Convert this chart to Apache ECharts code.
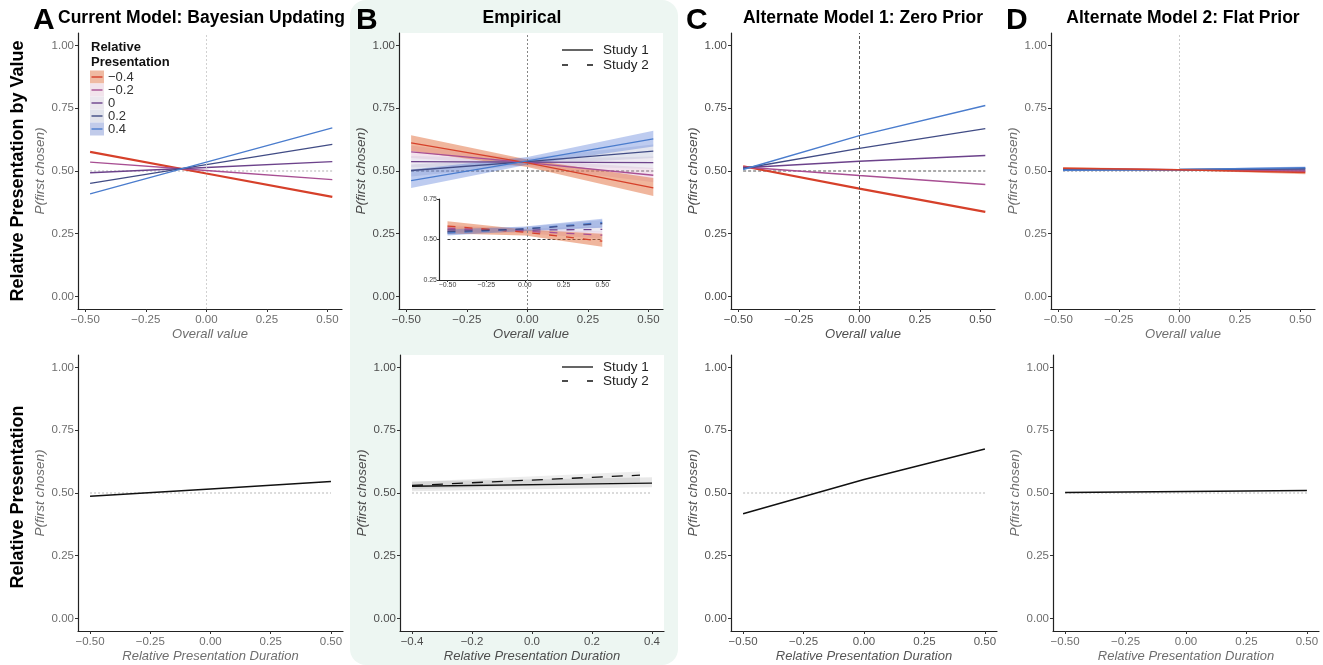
<!DOCTYPE html>
<html>
<head>
<meta charset="utf-8">
<script src="https://cdn.jsdelivr.net/npm/echarts@6/dist/echarts.min.js"></script>
<style>
html, body { margin: 0; padding: 0; background: #fff; }
#main { width: 1323px; height: 665px; }
</style>
</head>
<body>
<div id="main"></div>
<script>
// levels of relative presentation (legend of panel A)
const presLevels = ['−0.4', '−0.2', '0', '0.2', '0.4'];

// x positions the curves were read at
const valueX = [-0.48, 0, 0.52];
const insetX = [-0.5, 0, 0.5];
const durX = [-0.5, 0, 0.5];
const empDurX1 = [-0.4, 0.4];
const empDurX2 = [-0.4, 0.36];

// A - current model (bayesian updating)
const bayesByValue = [
  [0.576, 0.490, 0.397],
  [0.535, 0.502, 0.466],
  [0.493, 0.514, 0.537],
  [0.451, 0.525, 0.606],
  [0.409, 0.535, 0.672]
];
const bayesDur = [0.487, 0.516, 0.546];

// B - empirical, study 1 (main panel)
const empStudy1 = [
  [0.612, 0.532, 0.433],
  [0.576, 0.533, 0.483],
  [0.537, 0.535, 0.533],
  [0.502, 0.537, 0.579],
  [0.462, 0.540, 0.628]
];
const empStudy1Lo = [
  [0.580, 0.516, 0.400],
  [0.552, 0.519, 0.455],
  [0.515, 0.523, 0.508],
  [0.478, 0.525, 0.552],
  [0.432, 0.525, 0.598]
];
const empStudy1Hi = [
  [0.642, 0.546, 0.472],
  [0.602, 0.546, 0.512],
  [0.560, 0.548, 0.558],
  [0.526, 0.551, 0.606],
  [0.506, 0.556, 0.660]
];
// B - empirical, study 2 (inset)
const empStudy2 = [
  [0.583, 0.545, 0.490],
  [0.570, 0.551, 0.527],
  [0.560, 0.558, 0.562],
  [0.548, 0.565, 0.598],
  [0.540, 0.566, 0.605]
];
const empStudy2Lo = [
  [0.537, 0.525, 0.455],
  [0.548, 0.538, 0.505],
  [0.543, 0.547, 0.545],
  [0.530, 0.553, 0.575],
  [0.525, 0.552, 0.572]
];
const empStudy2Hi = [
  [0.612, 0.562, 0.535],
  [0.590, 0.563, 0.550],
  [0.578, 0.568, 0.580],
  [0.568, 0.577, 0.620],
  [0.562, 0.580, 0.628]
];
const empDur1 = [0.527, 0.539];
const empDur1Lo = [0.507, 0.523];
const empDur1Hi = [0.546, 0.563];
const empDur2 = [0.530, 0.571];
const empDur2Lo = [0.515, 0.543];
const empDur2Hi = [0.545, 0.586];

// C - zero prior
const zeroByValue = [
  [0.519, 0.430, 0.337],
  [0.516, 0.482, 0.446],
  [0.513, 0.539, 0.562],
  [0.510, 0.590, 0.669],
  [0.506, 0.641, 0.761]
];
const zeroDur = [0.417, 0.554, 0.675];

// D - flat prior
const flatByValue = [
  [0.511, 0.505, 0.494],
  [0.509, 0.505, 0.499],
  [0.507, 0.505, 0.504],
  [0.505, 0.506, 0.509],
  [0.503, 0.506, 0.513]
];
const flatByValueLo = [
  [0.506, 0.503, 0.487],
  [0.507, 0.504, 0.497],
  [0.506, 0.504, 0.502],
  [0.503, 0.505, 0.506],
  [0.499, 0.504, 0.508]
];
const flatByValueHi = [
  [0.516, 0.507, 0.501],
  [0.511, 0.506, 0.501],
  [0.508, 0.506, 0.506],
  [0.507, 0.507, 0.512],
  [0.507, 0.508, 0.518]
];
const flatDur = [0.502, 0.506, 0.510];

// ticks
const probTicks = [0, 0.25, 0.5, 0.75, 1];
const probTickLabels = ['0.00', '0.25', '0.50', '0.75', '1.00'];
const valTicks = [-0.5, -0.25, 0, 0.25, 0.5];
const valTickLabels = ['−0.50', '−0.25', '0.00', '0.25', '0.50'];
const durTicksB = [-0.4, -0.2, 0, 0.2, 0.4];
const durTickLabelsB = ['−0.4', '−0.2', '0.0', '0.2', '0.4'];
const insetTicks = [0.25, 0.5, 0.75];
const insetTickLabels = ['0.25', '0.50', '0.75'];

// styles
const FONT = '"Liberation Sans", Arial, sans-serif';
const lineCols = ['#d6402a', '#a84f93', '#6c428b', '#414c85', '#4a7ccd'];
const bandCols = ['rgba(226,110,60,0.5)', 'rgba(220,175,205,0.35)', 'rgba(205,195,218,0.35)', 'rgba(175,180,210,0.35)', 'rgba(85,120,215,0.38)'];
const keyCols = ['#efbaa2', '#f2e4ec', '#ebe7ee', '#e2e4ec', '#c1cbea'];

const grids = [], xAxes = [], yAxes = [], series = [];

function fmt(vals, labels) {
  return function (v) {
    const i = vals.findIndex(t => Math.abs(t - v) < 1e-9);
    return i < 0 ? '' : labels[i];
  };
}

function addPanel(box, o) {
  const gi = grids.length;
  grids.push({
    left: box[0], top: box[1], width: box[2], height: box[3],
    show: !!o.bg, backgroundColor: o.bg || 'transparent', borderWidth: 0
  });
  const fs = o.fs || 11.5;
  xAxes.push({
    type: 'value', gridIndex: gi, min: o.xr[0], max: o.xr[1],
    name: o.xname || '', nameLocation: 'middle', nameGap: 19,
    nameTextStyle: { fontStyle: 'italic', fontSize: 13, color: o.col, fontFamily: FONT },
    axisLine: { show: true, onZero: false, lineStyle: { color: '#222', width: 1.2 } },
    axisTick: { show: true, customValues: o.xt, length: o.tl || 3, lineStyle: { color: '#333' } },
    axisLabel: { customValues: o.xt, formatter: fmt(o.xt, o.xl), fontSize: fs, color: o.col, margin: o.tl ? 2 : 5, fontFamily: FONT },
    splitLine: { show: false }
  });
  yAxes.push({
    type: 'value', gridIndex: gi, min: o.yr[0], max: o.yr[1],
    name: o.yname || '', nameLocation: 'middle', nameGap: 30,
    nameTextStyle: { fontStyle: 'italic', fontSize: 13.5, color: o.col, fontFamily: FONT },
    axisLine: { show: true, onZero: false, lineStyle: { color: '#222', width: 1.2 } },
    axisTick: { show: true, customValues: o.yt, length: o.tl || 3, lineStyle: { color: '#333' } },
    axisLabel: { customValues: o.yt, formatter: fmt(o.yt, o.yl), fontSize: fs, color: o.col, margin: o.tl ? 2 : 4, fontFamily: FONT },
    splitLine: { show: false }
  });
  return gi;
}

function addLine(gi, xs, ys, color, width, dash) {
  series.push({
    type: 'line', xAxisIndex: gi, yAxisIndex: gi, silent: true, symbol: 'none', z: 4,
    data: xs.map((x, i) => [x, ys[i]]),
    lineStyle: { color: color, width: width, type: dash || 'solid' }
  });
}

function addBand(gi, xs, lo, hi, color) {
  series.push({
    type: 'custom', xAxisIndex: gi, yAxisIndex: gi, silent: true, z: 3,
    data: [[xs[0], lo[0]]],
    renderItem: function (params, api) {
      const pts = [];
      xs.forEach((x, i) => pts.push(api.coord([x, hi[i]])));
      for (let i = xs.length - 1; i >= 0; i--) pts.push(api.coord([xs[i], lo[i]]));
      return { type: 'polygon', shape: { points: pts }, style: { fill: color } };
    }
  });
}

// horizontal chance line (over the data range) + optional vertical line at x = 0
function addRef(gi, x0, x1, hCol, hDash, vCol, vDash) {
  const s = {
    type: 'line', xAxisIndex: gi, yAxisIndex: gi, silent: true, symbol: 'none', z: 2,
    data: [[x0, 0.5], [x1, 0.5]],
    lineStyle: { color: hCol, width: 0.9, type: hDash }
  };
  if (vCol) {
    s.markLine = {
      silent: true, symbol: ['none', 'none'], label: { show: false },
      lineStyle: { color: vCol, width: 0.9, type: vDash },
      data: [{ xAxis: 0 }]
    };
  }
  series.push(s);
}

const topY = { yr: [-0.05, 1.05], yt: probTicks, yl: probTickLabels, yname: 'P(first chosen)' };
const topX = { xr: [-0.53, 0.56], xt: valTicks, xl: valTickLabels, xname: 'Overall value' };
const botX = { xr: [-0.55, 0.55], xt: valTicks, xl: valTickLabels, xname: 'Relative Presentation Duration' };

// ---- row 1 ----
const gA1 = addPanel([78, 33, 264, 276], Object.assign({ col: '#6e6e6e' }, topX, topY));
addRef(gA1, -0.48, 0.52, '#aaaaaa', [2, 2], '#cccccc', [2, 2]);
bayesByValue.forEach((ys, i) => addLine(gA1, valueX, ys, lineCols[i], i === 0 ? 2.2 : 1.3));

const gB1 = addPanel([399, 33, 264, 276], Object.assign({ col: '#4d4d4d', bg: '#ffffff' }, topX, topY));
addRef(gB1, -0.48, 0.52, '#333333', [3, 2], '#777777', [2, 2]);
[1, 2, 3, 0, 4].forEach(i => addBand(gB1, valueX, empStudy1Lo[i], empStudy1Hi[i], bandCols[i]));
[2, 1, 3, 0, 4].forEach(i => addLine(gB1, valueX, empStudy1[i], lineCols[i], 1.3));

const gC1 = addPanel([731, 33, 264, 276], Object.assign({ col: '#4d4d4d' }, topX, topY));
addRef(gC1, -0.48, 0.52, '#444444', [3, 2], '#444444', [3, 2]);
zeroByValue.forEach((ys, i) => addLine(gC1, valueX, ys, lineCols[i], i === 0 ? 2.2 : 1.4));

const gD1 = addPanel([1051, 33, 264, 276], Object.assign({ col: '#6e6e6e' }, topX, topY));
addRef(gD1, -0.48, 0.52, '#777777', [2, 2], '#c4c4c4', [2, 2]);
[1, 2, 3, 0, 4].forEach(i => addBand(gD1, valueX, flatByValueLo[i], flatByValueHi[i], bandCols[i]));
[2, 1, 3, 4, 0].forEach(i => addLine(gD1, valueX, flatByValue[i], lineCols[i], 1.6));

// inset of panel B: study 2
const gIn = addPanel([439, 199, 171, 81], {
  col: '#444', fs: 7, tl: 2,
  xr: [-0.555, 0.55], xt: valTicks, xl: valTickLabels,
  yr: [0.25, 0.75], yt: insetTicks, yl: insetTickLabels
});
addRef(gIn, -0.5, 0.5, '#222222', [3, 2]);
[1, 2, 3, 0, 4].forEach(i => addBand(gIn, insetX, empStudy2Lo[i], empStudy2Hi[i], bandCols[i]));
[2, 1, 0, 4, 3].forEach(i => addLine(gIn, insetX, empStudy2[i], lineCols[i], 1.3, [8, 9]));

// ---- row 2 ----
const gA2 = addPanel([78, 355, 265, 276], Object.assign({ col: '#6e6e6e' }, botX, topY));
addRef(gA2, -0.5, 0.5, '#b0b0b0', [2, 2]);
addLine(gA2, durX, bayesDur, '#111', 1.5);

const gB2 = addPanel([400, 355, 264, 276], Object.assign({ col: '#4d4d4d', bg: '#ffffff' }, botX, topY,
  { xr: [-0.44, 0.44], xt: durTicksB, xl: durTickLabelsB }));
addRef(gB2, -0.4, 0.4, '#b0b0b0', [2, 2]);
addBand(gB2, empDurX1, empDur1Lo, empDur1Hi, 'rgba(0,0,0,0.09)');
addBand(gB2, empDurX2, empDur2Lo, empDur2Hi, 'rgba(0,0,0,0.07)');
addLine(gB2, empDurX1, empDur1, '#111', 1.3);
addLine(gB2, empDurX2, empDur2, '#111', 1.3, [11, 9]);

const gC2 = addPanel([731, 355, 266, 276], Object.assign({ col: '#555555' }, botX, topY));
addRef(gC2, -0.5, 0.5, '#b0b0b0', [2, 2]);
addLine(gC2, durX, zeroDur, '#111', 1.5);

const gD2 = addPanel([1053, 355, 266, 276], Object.assign({ col: '#6e6e6e' }, botX, topY));
addRef(gD2, -0.5, 0.5, '#b0b0b0', [2, 2]);
addLine(gD2, durX, flatDur, '#111', 1.5);

// ---- text, legends, background ----
function txt(text, x, y, size, opts) {
  return Object.assign({
    type: 'text', x: x, y: y, silent: true,
    style: Object.assign({
      text: text, fontSize: size, fontFamily: FONT, fill: '#000',
      textAlign: 'left', textVerticalAlign: 'middle'
    }, (opts && opts.style) || {})
  }, (opts && opts.el) || {});
}
const bold = (a) => ({ style: Object.assign({ fontWeight: 'bold' }, a || {}) });

const graphics = [
  { type: 'rect', z: -100, silent: true, shape: { x: 350, y: 0, width: 328, height: 665, r: 16 }, style: { fill: '#edf6f2' } },
  txt('A', 33, 21, 30, bold()),
  txt('B', 356, 21, 30, bold()),
  txt('C', 686, 21, 30, bold()),
  txt('D', 1006, 21, 30, bold()),
  txt('Current Model: Bayesian Updating', 58, 18, 17.5, bold()),
  txt('Empirical', 522, 18, 17.5, bold({ textAlign: 'center' })),
  txt('Alternate Model 1: Zero Prior', 863, 18, 17.5, bold({ textAlign: 'center' })),
  txt('Alternate Model 2: Flat Prior', 1183, 18, 17.5, bold({ textAlign: 'center' })),
  txt('Relative Presentation by Value', 18, 171, 18, { style: { fontWeight: 'bold', textAlign: 'center' }, el: { rotation: Math.PI / 2 } }),
  txt('Relative Presentation', 18, 497, 18, { style: { fontWeight: 'bold', textAlign: 'center' }, el: { rotation: Math.PI / 2 } }),
  txt('Relative', 91, 47, 13, bold({ fill: '#111' })),
  txt('Presentation', 91, 62, 13, bold({ fill: '#111' }))
];
presLevels.forEach((lab, i) => {
  const cy = 77 + i * 13;
  graphics.push({ type: 'rect', silent: true, shape: { x: 90, y: cy - 6.5, width: 14, height: 13 }, style: { fill: keyCols[i] } });
  graphics.push({ type: 'line', silent: true, shape: { x1: 91.5, y1: cy, x2: 102.5, y2: cy }, style: { stroke: lineCols[i], lineWidth: 1.4 } });
  graphics.push(txt(lab, 108, cy, 13, { style: { fill: '#333' } }));
});
[[50, 65], [367, 381]].forEach(([y1, y2]) => {
  graphics.push({ type: 'line', silent: true, shape: { x1: 562, y1: y1, x2: 593, y2: y1 }, style: { stroke: '#111', lineWidth: 1.3 } });
  graphics.push({ type: 'line', silent: true, shape: { x1: 562, y1: y2, x2: 593, y2: y2 }, style: { stroke: '#111', lineWidth: 1.3, lineDash: [6, 19] } });
  graphics.push(txt('Study 1', 603, y1, 13.5, { style: { fill: '#222' } }));
  graphics.push(txt('Study 2', 603, y2, 13.5, { style: { fill: '#222' } }));
});

const chart = echarts.init(document.getElementById('main'), null, { renderer: 'canvas' });
chart.setOption({
  animation: false,
  backgroundColor: '#ffffff',
  grid: grids,
  xAxis: xAxes,
  yAxis: yAxes,
  series: series,
  graphic: { elements: graphics }
});
</script>
</body>
</html>
